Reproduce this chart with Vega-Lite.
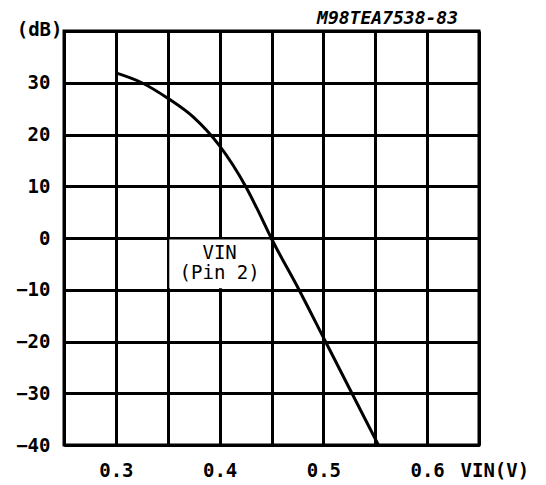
{
  "$schema": "https://vega.github.io/schema/vega-lite/v6.json",
  "autosize": "none",
  "padding": {"left": 64, "top": 31, "right": 67, "bottom": 40},
  "width": 415,
  "height": 414,
  "background": "white",
  "title": {
    "text": "M98TEA7538-83",
    "anchor": "end",
    "frame": "group",
    "dx": -21,
    "offset": -8,
    "font": "DejaVu Sans Mono",
    "fontSize": 18,
    "fontWeight": "bold",
    "fontStyle": "italic",
    "color": "black"
  },
  "config": {
    "view": {"stroke": "black", "strokeWidth": 3},
    "axis": {
      "domainColor": "black",
      "domainWidth": 3,
      "gridColor": "black",
      "gridOpacity": 1,
      "gridWidth": 3,
      "ticks": false,
      "labelFont": "DejaVu Sans Mono",
      "labelFontSize": 19,
      "labelFontWeight": "bold",
      "labelColor": "black",
      "titleFont": "DejaVu Sans Mono",
      "titleFontSize": 19,
      "titleFontWeight": "bold",
      "titleColor": "black"
    }
  },
  "datasets": {
    "curve": [
      {"vin": 0.300, "db": 31.9},
      {"vin": 0.325, "db": 30.0},
      {"vin": 0.350, "db": 27.0},
      {"vin": 0.375, "db": 23.3},
      {"vin": 0.400, "db": 17.8},
      {"vin": 0.4125, "db": 14.2},
      {"vin": 0.425, "db": 10.0},
      {"vin": 0.4375, "db": 5.1},
      {"vin": 0.4497, "db": 0.0},
      {"vin": 0.4765, "db": -10.0},
      {"vin": 0.502, "db": -20.0},
      {"vin": 0.5275, "db": -30.0},
      {"vin": 0.553, "db": -40.0}
    ],
    "box": [
      {"x1": 0.3515, "x2": 0.4485, "y1": -0.3, "y2": -9.7}
    ],
    "note": [
      {"vin": 0.4, "db": -2.9, "label": "VIN\n(Pin 2)"}
    ]
  },
  "layer": [
    {
      "data": {"name": "box"},
      "mark": {"type": "rect", "color": "white"},
      "encoding": {
        "x": {"field": "x1", "type": "quantitative"},
        "x2": {"field": "x2"},
        "y": {"field": "y1", "type": "quantitative"},
        "y2": {"field": "y2"}
      }
    },
    {
      "data": {"name": "curve"},
      "mark": {"type": "line", "color": "black", "strokeWidth": 3, "interpolate": "monotone", "clip": true},
      "encoding": {
        "x": {
          "field": "vin",
          "type": "quantitative",
          "scale": {"domain": [0.25, 0.65], "nice": false, "zero": false},
          "axis": {
            "values": [0.25, 0.3, 0.35, 0.4, 0.45, 0.5, 0.55, 0.6, 0.65],
            "labelExpr": "round(datum.value*100) % 10 == 0 ? format(datum.value, '.1f') : ''",
            "labelPadding": 16,
            "labelBaseline": "top",
            "labelFlush": false,
            "title": "VIN(V)",
            "titleAlign": "left",
            "titleBaseline": "top",
            "titleX": 396,
            "titleY": 16
          }
        },
        "y": {
          "field": "db",
          "type": "quantitative",
          "scale": {"domain": [-40, 40], "nice": false, "zero": false},
          "axis": {
            "values": [-40, -30, -20, -10, 0, 10, 20, 30, 40],
            "labelExpr": "datum.value == 40 ? '' : format(datum.value, 'd')",
            "labelPadding": 14,
            "labelFlush": false,
            "title": "(dB)",
            "titleAngle": 0,
            "titleAlign": "right",
            "titleBaseline": "middle",
            "titleX": -2,
            "titleY": -2
          }
        }
      }
    },
    {
      "data": {"name": "note"},
      "mark": {"type": "text", "font": "DejaVu Sans Mono", "fontSize": 19, "color": "black", "align": "center", "baseline": "middle", "lineBreak": "\n", "lineHeight": 20},
      "encoding": {
        "x": {"field": "vin", "type": "quantitative"},
        "y": {"field": "db", "type": "quantitative"},
        "text": {"field": "label"}
      }
    }
  ]
}
